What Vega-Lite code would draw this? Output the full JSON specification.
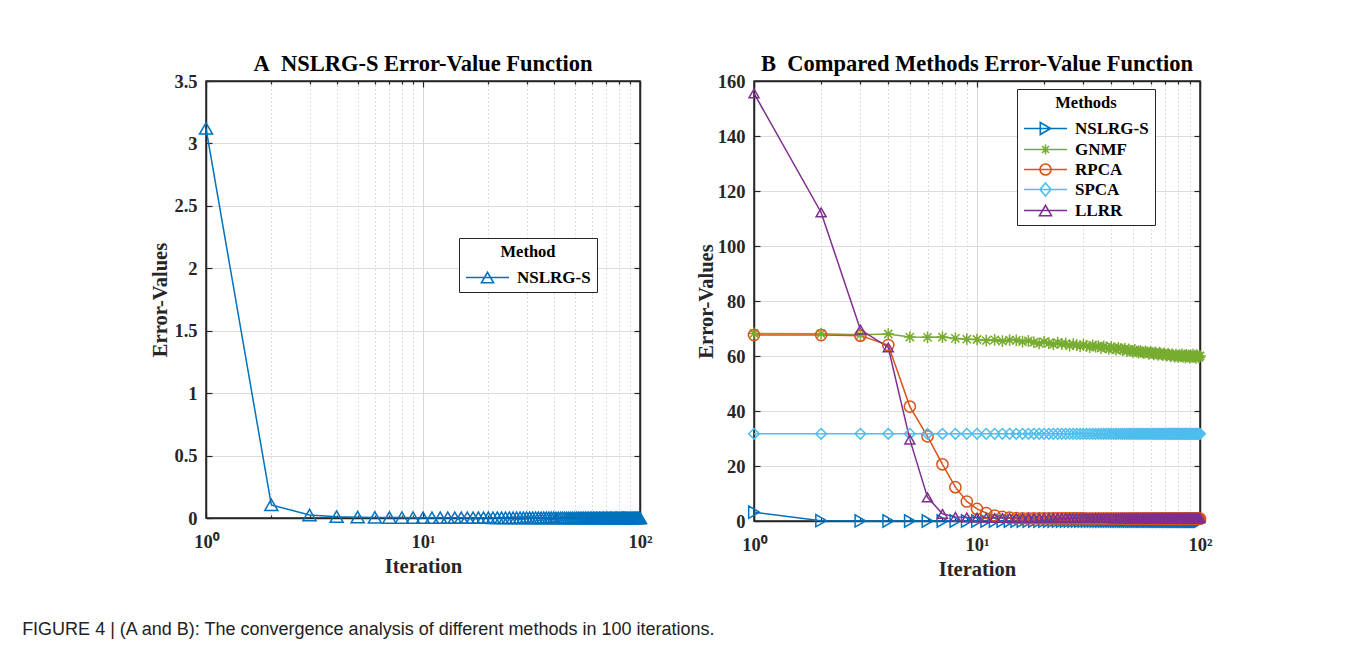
{
"$schema":"https://vega.github.io/schema/vega-lite/v6.json",
"padding":{"left":22,"top":51,"right":5,"bottom":5},
"title":{"text":"FIGURE 4 | (A and B): The convergence analysis of different methods in 100 iterations.","orient":"bottom","anchor":"start","font":"Liberation Sans","fontSize":18,"fontWeight":"normal","color":"#222222","dx":-128,"offset":40},
"spacing":42,
"datasets":{
"a":[
{"i":1,"v":3.12},{"i":2,"v":0.105},{"i":3,"v":0.024},{"i":4,"v":0.011},{"i":5,"v":0.007},{"i":6,"v":0.005},{"i":7,"v":0.004},{"i":8,"v":0.0035},{"i":9,"v":0.003},{"i":10,"v":0.0028},
{"i":11,"v":0.0025},{"i":12,"v":0.0025},{"i":13,"v":0.0025},{"i":14,"v":0.0025},{"i":15,"v":0.0025},{"i":16,"v":0.0025},{"i":17,"v":0.0025},{"i":18,"v":0.0025},{"i":19,"v":0.0025},{"i":20,"v":0.0025},
{"i":21,"v":0.002},{"i":22,"v":0.002},{"i":23,"v":0.002},{"i":24,"v":0.002},{"i":25,"v":0.002},{"i":26,"v":0.002},{"i":27,"v":0.002},{"i":28,"v":0.002},{"i":29,"v":0.002},{"i":30,"v":0.002},
{"i":31,"v":0.002},{"i":32,"v":0.002},{"i":33,"v":0.002},{"i":34,"v":0.002},{"i":35,"v":0.002},{"i":36,"v":0.002},{"i":37,"v":0.002},{"i":38,"v":0.002},{"i":39,"v":0.002},{"i":40,"v":0.002},
{"i":41,"v":0.0015},{"i":42,"v":0.0015},{"i":43,"v":0.0015},{"i":44,"v":0.0015},{"i":45,"v":0.0015},{"i":46,"v":0.0015},{"i":47,"v":0.0015},{"i":48,"v":0.0015},{"i":49,"v":0.0015},{"i":50,"v":0.0015},
{"i":51,"v":0.0015},{"i":52,"v":0.0015},{"i":53,"v":0.0015},{"i":54,"v":0.0015},{"i":55,"v":0.0015},{"i":56,"v":0.0015},{"i":57,"v":0.0015},{"i":58,"v":0.0015},{"i":59,"v":0.0015},{"i":60,"v":0.0015},
{"i":61,"v":0.0015},{"i":62,"v":0.0015},{"i":63,"v":0.0015},{"i":64,"v":0.0015},{"i":65,"v":0.0015},{"i":66,"v":0.0015},{"i":67,"v":0.0015},{"i":68,"v":0.0015},{"i":69,"v":0.0015},{"i":70,"v":0.0015},
{"i":71,"v":0.001},{"i":72,"v":0.001},{"i":73,"v":0.001},{"i":74,"v":0.001},{"i":75,"v":0.001},{"i":76,"v":0.001},{"i":77,"v":0.001},{"i":78,"v":0.001},{"i":79,"v":0.001},{"i":80,"v":0.001},
{"i":81,"v":0.001},{"i":82,"v":0.001},{"i":83,"v":0.001},{"i":84,"v":0.001},{"i":85,"v":0.001},{"i":86,"v":0.001},{"i":87,"v":0.001},{"i":88,"v":0.001},{"i":89,"v":0.001},{"i":90,"v":0.001},
{"i":91,"v":0.001},{"i":92,"v":0.001},{"i":93,"v":0.001},{"i":94,"v":0.001},{"i":95,"v":0.001},{"i":96,"v":0.001},{"i":97,"v":0.001},{"i":98,"v":0.001},{"i":99,"v":0.001},{"i":100,"v":0.001}
],
"b":[
{"m":"NSLRG-S","i":1,"v":3.2},{"m":"NSLRG-S","i":2,"v":0.12},{"m":"NSLRG-S","i":3,"v":0.03},{"m":"NSLRG-S","i":4,"v":0.012},{"m":"NSLRG-S","i":5,"v":0.008},{"m":"NSLRG-S","i":6,"v":0.006},{"m":"NSLRG-S","i":7,"v":0.005},{"m":"NSLRG-S","i":8,"v":0.0045},{"m":"NSLRG-S","i":9,"v":0.004},{"m":"NSLRG-S","i":10,"v":0.0038},
{"m":"NSLRG-S","i":11,"v":0.0035},{"m":"NSLRG-S","i":12,"v":0.0035},{"m":"NSLRG-S","i":13,"v":0.0035},{"m":"NSLRG-S","i":14,"v":0.0035},{"m":"NSLRG-S","i":15,"v":0.0035},{"m":"NSLRG-S","i":16,"v":0.0035},{"m":"NSLRG-S","i":17,"v":0.0035},{"m":"NSLRG-S","i":18,"v":0.0035},{"m":"NSLRG-S","i":19,"v":0.0035},{"m":"NSLRG-S","i":20,"v":0.0035},
{"m":"NSLRG-S","i":21,"v":0.003},{"m":"NSLRG-S","i":22,"v":0.003},{"m":"NSLRG-S","i":23,"v":0.003},{"m":"NSLRG-S","i":24,"v":0.003},{"m":"NSLRG-S","i":25,"v":0.003},{"m":"NSLRG-S","i":26,"v":0.003},{"m":"NSLRG-S","i":27,"v":0.003},{"m":"NSLRG-S","i":28,"v":0.003},{"m":"NSLRG-S","i":29,"v":0.003},{"m":"NSLRG-S","i":30,"v":0.003},
{"m":"NSLRG-S","i":31,"v":0.003},{"m":"NSLRG-S","i":32,"v":0.003},{"m":"NSLRG-S","i":33,"v":0.003},{"m":"NSLRG-S","i":34,"v":0.003},{"m":"NSLRG-S","i":35,"v":0.003},{"m":"NSLRG-S","i":36,"v":0.003},{"m":"NSLRG-S","i":37,"v":0.003},{"m":"NSLRG-S","i":38,"v":0.003},{"m":"NSLRG-S","i":39,"v":0.003},{"m":"NSLRG-S","i":40,"v":0.003},
{"m":"NSLRG-S","i":41,"v":0.0025},{"m":"NSLRG-S","i":42,"v":0.0025},{"m":"NSLRG-S","i":43,"v":0.0025},{"m":"NSLRG-S","i":44,"v":0.0025},{"m":"NSLRG-S","i":45,"v":0.0025},{"m":"NSLRG-S","i":46,"v":0.0025},{"m":"NSLRG-S","i":47,"v":0.0025},{"m":"NSLRG-S","i":48,"v":0.0025},{"m":"NSLRG-S","i":49,"v":0.0025},{"m":"NSLRG-S","i":50,"v":0.0025},
{"m":"NSLRG-S","i":51,"v":0.0025},{"m":"NSLRG-S","i":52,"v":0.0025},{"m":"NSLRG-S","i":53,"v":0.0025},{"m":"NSLRG-S","i":54,"v":0.0025},{"m":"NSLRG-S","i":55,"v":0.0025},{"m":"NSLRG-S","i":56,"v":0.0025},{"m":"NSLRG-S","i":57,"v":0.0025},{"m":"NSLRG-S","i":58,"v":0.0025},{"m":"NSLRG-S","i":59,"v":0.0025},{"m":"NSLRG-S","i":60,"v":0.0025},
{"m":"NSLRG-S","i":61,"v":0.0025},{"m":"NSLRG-S","i":62,"v":0.0025},{"m":"NSLRG-S","i":63,"v":0.0025},{"m":"NSLRG-S","i":64,"v":0.0025},{"m":"NSLRG-S","i":65,"v":0.0025},{"m":"NSLRG-S","i":66,"v":0.0025},{"m":"NSLRG-S","i":67,"v":0.0025},{"m":"NSLRG-S","i":68,"v":0.0025},{"m":"NSLRG-S","i":69,"v":0.0025},{"m":"NSLRG-S","i":70,"v":0.0025},
{"m":"NSLRG-S","i":71,"v":0.002},{"m":"NSLRG-S","i":72,"v":0.002},{"m":"NSLRG-S","i":73,"v":0.002},{"m":"NSLRG-S","i":74,"v":0.002},{"m":"NSLRG-S","i":75,"v":0.002},{"m":"NSLRG-S","i":76,"v":0.002},{"m":"NSLRG-S","i":77,"v":0.002},{"m":"NSLRG-S","i":78,"v":0.002},{"m":"NSLRG-S","i":79,"v":0.002},{"m":"NSLRG-S","i":80,"v":0.002},
{"m":"NSLRG-S","i":81,"v":0.002},{"m":"NSLRG-S","i":82,"v":0.002},{"m":"NSLRG-S","i":83,"v":0.002},{"m":"NSLRG-S","i":84,"v":0.002},{"m":"NSLRG-S","i":85,"v":0.002},{"m":"NSLRG-S","i":86,"v":0.002},{"m":"NSLRG-S","i":87,"v":0.002},{"m":"NSLRG-S","i":88,"v":0.002},{"m":"NSLRG-S","i":89,"v":0.002},{"m":"NSLRG-S","i":90,"v":0.002},
{"m":"NSLRG-S","i":91,"v":0.002},{"m":"NSLRG-S","i":92,"v":0.002},{"m":"NSLRG-S","i":93,"v":0.002},{"m":"NSLRG-S","i":94,"v":0.002},{"m":"NSLRG-S","i":95,"v":0.002},{"m":"NSLRG-S","i":96,"v":0.002},{"m":"NSLRG-S","i":97,"v":0.002},{"m":"NSLRG-S","i":98,"v":0.002},{"m":"NSLRG-S","i":99,"v":0.002},{"m":"NSLRG-S","i":100,"v":0.002},
{"m":"GNMF","i":1,"v":68.2},{"m":"GNMF","i":2,"v":68.1},{"m":"GNMF","i":3,"v":67.7},{"m":"GNMF","i":4,"v":68.0},{"m":"GNMF","i":5,"v":66.9},{"m":"GNMF","i":6,"v":66.8},{"m":"GNMF","i":7,"v":66.9},{"m":"GNMF","i":8,"v":66.4},{"m":"GNMF","i":9,"v":66.1},{"m":"GNMF","i":10,"v":66.0},
{"m":"GNMF","i":11,"v":65.6},{"m":"GNMF","i":12,"v":65.9},{"m":"GNMF","i":13,"v":65.4},{"m":"GNMF","i":14,"v":65.8},{"m":"GNMF","i":15,"v":65.7},{"m":"GNMF","i":16,"v":65.2},{"m":"GNMF","i":17,"v":65.5},{"m":"GNMF","i":18,"v":65.0},{"m":"GNMF","i":19,"v":64.6},{"m":"GNMF","i":20,"v":65.1},
{"m":"GNMF","i":21,"v":64.7},{"m":"GNMF","i":22,"v":64.2},{"m":"GNMF","i":23,"v":64.9},{"m":"GNMF","i":24,"v":64.4},{"m":"GNMF","i":25,"v":64.5},{"m":"GNMF","i":26,"v":63.8},{"m":"GNMF","i":27,"v":64.3},{"m":"GNMF","i":28,"v":64.0},{"m":"GNMF","i":29,"v":63.5},{"m":"GNMF","i":30,"v":64.1},
{"m":"GNMF","i":31,"v":63.7},{"m":"GNMF","i":32,"v":63.2},{"m":"GNMF","i":33,"v":63.9},{"m":"GNMF","i":34,"v":63.4},{"m":"GNMF","i":35,"v":63.6},{"m":"GNMF","i":36,"v":62.9},{"m":"GNMF","i":37,"v":63.5},{"m":"GNMF","i":38,"v":63.1},{"m":"GNMF","i":39,"v":62.6},{"m":"GNMF","i":40,"v":63.3},
{"m":"GNMF","i":41,"v":62.8},{"m":"GNMF","i":42,"v":62.3},{"m":"GNMF","i":43,"v":63.0},{"m":"GNMF","i":44,"v":62.5},{"m":"GNMF","i":45,"v":62.1},{"m":"GNMF","i":46,"v":62.7},{"m":"GNMF","i":47,"v":61.8},{"m":"GNMF","i":48,"v":62.4},{"m":"GNMF","i":49,"v":61.9},{"m":"GNMF","i":50,"v":61.5},
{"m":"GNMF","i":51,"v":62.2},{"m":"GNMF","i":52,"v":61.6},{"m":"GNMF","i":53,"v":61.2},{"m":"GNMF","i":54,"v":61.9},{"m":"GNMF","i":55,"v":61.4},{"m":"GNMF","i":56,"v":61.0},{"m":"GNMF","i":57,"v":61.7},{"m":"GNMF","i":58,"v":61.3},{"m":"GNMF","i":59,"v":60.8},{"m":"GNMF","i":60,"v":61.5},
{"m":"GNMF","i":61,"v":61.1},{"m":"GNMF","i":62,"v":60.6},{"m":"GNMF","i":63,"v":61.3},{"m":"GNMF","i":64,"v":60.9},{"m":"GNMF","i":65,"v":60.4},{"m":"GNMF","i":66,"v":61.2},{"m":"GNMF","i":67,"v":60.7},{"m":"GNMF","i":68,"v":60.3},{"m":"GNMF","i":69,"v":61.0},{"m":"GNMF","i":70,"v":60.5},
{"m":"GNMF","i":71,"v":60.1},{"m":"GNMF","i":72,"v":60.8},{"m":"GNMF","i":73,"v":60.4},{"m":"GNMF","i":74,"v":59.9},{"m":"GNMF","i":75,"v":60.6},{"m":"GNMF","i":76,"v":60.2},{"m":"GNMF","i":77,"v":59.8},{"m":"GNMF","i":78,"v":60.5},{"m":"GNMF","i":79,"v":60.0},{"m":"GNMF","i":80,"v":59.6},
{"m":"GNMF","i":81,"v":60.3},{"m":"GNMF","i":82,"v":59.9},{"m":"GNMF","i":83,"v":60.6},{"m":"GNMF","i":84,"v":59.7},{"m":"GNMF","i":85,"v":60.2},{"m":"GNMF","i":86,"v":59.5},{"m":"GNMF","i":87,"v":60.4},{"m":"GNMF","i":88,"v":59.8},{"m":"GNMF","i":89,"v":60.1},{"m":"GNMF","i":90,"v":59.4},
{"m":"GNMF","i":91,"v":60.2},{"m":"GNMF","i":92,"v":59.7},{"m":"GNMF","i":93,"v":60.5},{"m":"GNMF","i":94,"v":59.6},{"m":"GNMF","i":95,"v":60.1},{"m":"GNMF","i":96,"v":59.3},{"m":"GNMF","i":97,"v":60.3},{"m":"GNMF","i":98,"v":59.8},{"m":"GNMF","i":99,"v":59.5},{"m":"GNMF","i":100,"v":60.0},
{"m":"RPCA","i":1,"v":67.6},{"m":"RPCA","i":2,"v":67.6},{"m":"RPCA","i":3,"v":67.4},{"m":"RPCA","i":4,"v":64.0},{"m":"RPCA","i":5,"v":41.6},{"m":"RPCA","i":6,"v":30.8},{"m":"RPCA","i":7,"v":20.6},{"m":"RPCA","i":8,"v":12.3},{"m":"RPCA","i":9,"v":7.1},{"m":"RPCA","i":10,"v":4.4},
{"m":"RPCA","i":11,"v":2.9},{"m":"RPCA","i":12,"v":2.0},{"m":"RPCA","i":13,"v":1.5},{"m":"RPCA","i":14,"v":1.2},{"m":"RPCA","i":15,"v":1.05},{"m":"RPCA","i":16,"v":1.0},{"m":"RPCA","i":17,"v":0.98},{"m":"RPCA","i":18,"v":0.96},{"m":"RPCA","i":19,"v":0.95},{"m":"RPCA","i":20,"v":0.94},
{"m":"RPCA","i":21,"v":0.93},{"m":"RPCA","i":22,"v":0.93},{"m":"RPCA","i":23,"v":0.93},{"m":"RPCA","i":24,"v":0.93},{"m":"RPCA","i":25,"v":0.93},{"m":"RPCA","i":26,"v":0.93},{"m":"RPCA","i":27,"v":0.93},{"m":"RPCA","i":28,"v":0.93},{"m":"RPCA","i":29,"v":0.93},{"m":"RPCA","i":30,"v":0.93},
{"m":"RPCA","i":31,"v":0.9},{"m":"RPCA","i":32,"v":0.9},{"m":"RPCA","i":33,"v":0.9},{"m":"RPCA","i":34,"v":0.9},{"m":"RPCA","i":35,"v":0.9},{"m":"RPCA","i":36,"v":0.9},{"m":"RPCA","i":37,"v":0.9},{"m":"RPCA","i":38,"v":0.9},{"m":"RPCA","i":39,"v":0.9},{"m":"RPCA","i":40,"v":0.9},
{"m":"RPCA","i":41,"v":0.9},{"m":"RPCA","i":42,"v":0.9},{"m":"RPCA","i":43,"v":0.9},{"m":"RPCA","i":44,"v":0.9},{"m":"RPCA","i":45,"v":0.9},{"m":"RPCA","i":46,"v":0.9},{"m":"RPCA","i":47,"v":0.9},{"m":"RPCA","i":48,"v":0.9},{"m":"RPCA","i":49,"v":0.9},{"m":"RPCA","i":50,"v":0.9},
{"m":"RPCA","i":51,"v":0.87},{"m":"RPCA","i":52,"v":0.87},{"m":"RPCA","i":53,"v":0.87},{"m":"RPCA","i":54,"v":0.87},{"m":"RPCA","i":55,"v":0.87},{"m":"RPCA","i":56,"v":0.87},{"m":"RPCA","i":57,"v":0.87},{"m":"RPCA","i":58,"v":0.87},{"m":"RPCA","i":59,"v":0.87},{"m":"RPCA","i":60,"v":0.87},
{"m":"RPCA","i":61,"v":0.87},{"m":"RPCA","i":62,"v":0.87},{"m":"RPCA","i":63,"v":0.87},{"m":"RPCA","i":64,"v":0.87},{"m":"RPCA","i":65,"v":0.87},{"m":"RPCA","i":66,"v":0.87},{"m":"RPCA","i":67,"v":0.87},{"m":"RPCA","i":68,"v":0.87},{"m":"RPCA","i":69,"v":0.87},{"m":"RPCA","i":70,"v":0.87},
{"m":"RPCA","i":71,"v":0.84},{"m":"RPCA","i":72,"v":0.84},{"m":"RPCA","i":73,"v":0.84},{"m":"RPCA","i":74,"v":0.84},{"m":"RPCA","i":75,"v":0.84},{"m":"RPCA","i":76,"v":0.84},{"m":"RPCA","i":77,"v":0.84},{"m":"RPCA","i":78,"v":0.84},{"m":"RPCA","i":79,"v":0.84},{"m":"RPCA","i":80,"v":0.84},
{"m":"RPCA","i":81,"v":0.84},{"m":"RPCA","i":82,"v":0.84},{"m":"RPCA","i":83,"v":0.84},{"m":"RPCA","i":84,"v":0.84},{"m":"RPCA","i":85,"v":0.84},{"m":"RPCA","i":86,"v":0.84},{"m":"RPCA","i":87,"v":0.84},{"m":"RPCA","i":88,"v":0.84},{"m":"RPCA","i":89,"v":0.84},{"m":"RPCA","i":90,"v":0.84},
{"m":"RPCA","i":91,"v":0.84},{"m":"RPCA","i":92,"v":0.84},{"m":"RPCA","i":93,"v":0.84},{"m":"RPCA","i":94,"v":0.84},{"m":"RPCA","i":95,"v":0.84},{"m":"RPCA","i":96,"v":0.84},{"m":"RPCA","i":97,"v":0.84},{"m":"RPCA","i":98,"v":0.84},{"m":"RPCA","i":99,"v":0.84},{"m":"RPCA","i":100,"v":0.84},
{"m":"SPCA","i":1,"v":31.7},{"m":"SPCA","i":2,"v":31.7},{"m":"SPCA","i":3,"v":31.7},{"m":"SPCA","i":4,"v":31.7},{"m":"SPCA","i":5,"v":31.7},{"m":"SPCA","i":6,"v":31.7},{"m":"SPCA","i":7,"v":31.7},{"m":"SPCA","i":8,"v":31.7},{"m":"SPCA","i":9,"v":31.7},{"m":"SPCA","i":10,"v":31.7},
{"m":"SPCA","i":11,"v":31.7},{"m":"SPCA","i":12,"v":31.7},{"m":"SPCA","i":13,"v":31.7},{"m":"SPCA","i":14,"v":31.7},{"m":"SPCA","i":15,"v":31.7},{"m":"SPCA","i":16,"v":31.7},{"m":"SPCA","i":17,"v":31.7},{"m":"SPCA","i":18,"v":31.7},{"m":"SPCA","i":19,"v":31.7},{"m":"SPCA","i":20,"v":31.7},
{"m":"SPCA","i":21,"v":31.7},{"m":"SPCA","i":22,"v":31.7},{"m":"SPCA","i":23,"v":31.7},{"m":"SPCA","i":24,"v":31.7},{"m":"SPCA","i":25,"v":31.7},{"m":"SPCA","i":26,"v":31.7},{"m":"SPCA","i":27,"v":31.7},{"m":"SPCA","i":28,"v":31.7},{"m":"SPCA","i":29,"v":31.7},{"m":"SPCA","i":30,"v":31.7},
{"m":"SPCA","i":31,"v":31.7},{"m":"SPCA","i":32,"v":31.7},{"m":"SPCA","i":33,"v":31.7},{"m":"SPCA","i":34,"v":31.7},{"m":"SPCA","i":35,"v":31.7},{"m":"SPCA","i":36,"v":31.7},{"m":"SPCA","i":37,"v":31.7},{"m":"SPCA","i":38,"v":31.7},{"m":"SPCA","i":39,"v":31.7},{"m":"SPCA","i":40,"v":31.7},
{"m":"SPCA","i":41,"v":31.7},{"m":"SPCA","i":42,"v":31.7},{"m":"SPCA","i":43,"v":31.7},{"m":"SPCA","i":44,"v":31.7},{"m":"SPCA","i":45,"v":31.7},{"m":"SPCA","i":46,"v":31.7},{"m":"SPCA","i":47,"v":31.7},{"m":"SPCA","i":48,"v":31.7},{"m":"SPCA","i":49,"v":31.7},{"m":"SPCA","i":50,"v":31.7},
{"m":"SPCA","i":51,"v":31.7},{"m":"SPCA","i":52,"v":31.7},{"m":"SPCA","i":53,"v":31.7},{"m":"SPCA","i":54,"v":31.7},{"m":"SPCA","i":55,"v":31.7},{"m":"SPCA","i":56,"v":31.7},{"m":"SPCA","i":57,"v":31.7},{"m":"SPCA","i":58,"v":31.7},{"m":"SPCA","i":59,"v":31.7},{"m":"SPCA","i":60,"v":31.7},
{"m":"SPCA","i":61,"v":31.7},{"m":"SPCA","i":62,"v":31.7},{"m":"SPCA","i":63,"v":31.7},{"m":"SPCA","i":64,"v":31.7},{"m":"SPCA","i":65,"v":31.7},{"m":"SPCA","i":66,"v":31.7},{"m":"SPCA","i":67,"v":31.7},{"m":"SPCA","i":68,"v":31.7},{"m":"SPCA","i":69,"v":31.7},{"m":"SPCA","i":70,"v":31.7},
{"m":"SPCA","i":71,"v":31.7},{"m":"SPCA","i":72,"v":31.7},{"m":"SPCA","i":73,"v":31.7},{"m":"SPCA","i":74,"v":31.7},{"m":"SPCA","i":75,"v":31.7},{"m":"SPCA","i":76,"v":31.7},{"m":"SPCA","i":77,"v":31.7},{"m":"SPCA","i":78,"v":31.7},{"m":"SPCA","i":79,"v":31.7},{"m":"SPCA","i":80,"v":31.7},
{"m":"SPCA","i":81,"v":31.7},{"m":"SPCA","i":82,"v":31.7},{"m":"SPCA","i":83,"v":31.7},{"m":"SPCA","i":84,"v":31.7},{"m":"SPCA","i":85,"v":31.7},{"m":"SPCA","i":86,"v":31.7},{"m":"SPCA","i":87,"v":31.7},{"m":"SPCA","i":88,"v":31.7},{"m":"SPCA","i":89,"v":31.7},{"m":"SPCA","i":90,"v":31.7},
{"m":"SPCA","i":91,"v":31.7},{"m":"SPCA","i":92,"v":31.7},{"m":"SPCA","i":93,"v":31.7},{"m":"SPCA","i":94,"v":31.7},{"m":"SPCA","i":95,"v":31.7},{"m":"SPCA","i":96,"v":31.7},{"m":"SPCA","i":97,"v":31.7},{"m":"SPCA","i":98,"v":31.7},{"m":"SPCA","i":99,"v":31.7},{"m":"SPCA","i":100,"v":31.7},
{"m":"LLRR","i":1,"v":155.5},{"m":"LLRR","i":2,"v":112.2},{"m":"LLRR","i":3,"v":69.6},{"m":"LLRR","i":4,"v":63.1},{"m":"LLRR","i":5,"v":29.6},{"m":"LLRR","i":6,"v":8.6},{"m":"LLRR","i":7,"v":2.6},{"m":"LLRR","i":8,"v":1.5},{"m":"LLRR","i":9,"v":1.3},{"m":"LLRR","i":10,"v":1.2},
{"m":"LLRR","i":11,"v":1.15},{"m":"LLRR","i":12,"v":1.1},{"m":"LLRR","i":13,"v":1.1},{"m":"LLRR","i":14,"v":1.1},{"m":"LLRR","i":15,"v":1.1},{"m":"LLRR","i":16,"v":1.1},{"m":"LLRR","i":17,"v":1.1},{"m":"LLRR","i":18,"v":1.1},{"m":"LLRR","i":19,"v":1.1},{"m":"LLRR","i":20,"v":1.1},
{"m":"LLRR","i":21,"v":1.08},{"m":"LLRR","i":22,"v":1.08},{"m":"LLRR","i":23,"v":1.08},{"m":"LLRR","i":24,"v":1.08},{"m":"LLRR","i":25,"v":1.08},{"m":"LLRR","i":26,"v":1.08},{"m":"LLRR","i":27,"v":1.08},{"m":"LLRR","i":28,"v":1.08},{"m":"LLRR","i":29,"v":1.08},{"m":"LLRR","i":30,"v":1.08},
{"m":"LLRR","i":31,"v":1.08},{"m":"LLRR","i":32,"v":1.08},{"m":"LLRR","i":33,"v":1.08},{"m":"LLRR","i":34,"v":1.08},{"m":"LLRR","i":35,"v":1.08},{"m":"LLRR","i":36,"v":1.08},{"m":"LLRR","i":37,"v":1.08},{"m":"LLRR","i":38,"v":1.08},{"m":"LLRR","i":39,"v":1.08},{"m":"LLRR","i":40,"v":1.08},
{"m":"LLRR","i":41,"v":1.05},{"m":"LLRR","i":42,"v":1.05},{"m":"LLRR","i":43,"v":1.05},{"m":"LLRR","i":44,"v":1.05},{"m":"LLRR","i":45,"v":1.05},{"m":"LLRR","i":46,"v":1.05},{"m":"LLRR","i":47,"v":1.05},{"m":"LLRR","i":48,"v":1.05},{"m":"LLRR","i":49,"v":1.05},{"m":"LLRR","i":50,"v":1.05},
{"m":"LLRR","i":51,"v":1.05},{"m":"LLRR","i":52,"v":1.05},{"m":"LLRR","i":53,"v":1.05},{"m":"LLRR","i":54,"v":1.05},{"m":"LLRR","i":55,"v":1.05},{"m":"LLRR","i":56,"v":1.05},{"m":"LLRR","i":57,"v":1.05},{"m":"LLRR","i":58,"v":1.05},{"m":"LLRR","i":59,"v":1.05},{"m":"LLRR","i":60,"v":1.05},
{"m":"LLRR","i":61,"v":1.05},{"m":"LLRR","i":62,"v":1.05},{"m":"LLRR","i":63,"v":1.05},{"m":"LLRR","i":64,"v":1.05},{"m":"LLRR","i":65,"v":1.05},{"m":"LLRR","i":66,"v":1.05},{"m":"LLRR","i":67,"v":1.05},{"m":"LLRR","i":68,"v":1.05},{"m":"LLRR","i":69,"v":1.05},{"m":"LLRR","i":70,"v":1.05},
{"m":"LLRR","i":71,"v":1.02},{"m":"LLRR","i":72,"v":1.02},{"m":"LLRR","i":73,"v":1.02},{"m":"LLRR","i":74,"v":1.02},{"m":"LLRR","i":75,"v":1.02},{"m":"LLRR","i":76,"v":1.02},{"m":"LLRR","i":77,"v":1.02},{"m":"LLRR","i":78,"v":1.02},{"m":"LLRR","i":79,"v":1.02},{"m":"LLRR","i":80,"v":1.02},
{"m":"LLRR","i":81,"v":1.02},{"m":"LLRR","i":82,"v":1.02},{"m":"LLRR","i":83,"v":1.02},{"m":"LLRR","i":84,"v":1.02},{"m":"LLRR","i":85,"v":1.02},{"m":"LLRR","i":86,"v":1.02},{"m":"LLRR","i":87,"v":1.02},{"m":"LLRR","i":88,"v":1.02},{"m":"LLRR","i":89,"v":1.02},{"m":"LLRR","i":90,"v":1.02},
{"m":"LLRR","i":91,"v":1.02},{"m":"LLRR","i":92,"v":1.02},{"m":"LLRR","i":93,"v":1.02},{"m":"LLRR","i":94,"v":1.02},{"m":"LLRR","i":95,"v":1.02},{"m":"LLRR","i":96,"v":1.02},{"m":"LLRR","i":97,"v":1.02},{"m":"LLRR","i":98,"v":1.02},{"m":"LLRR","i":99,"v":1.02},{"m":"LLRR","i":100,"v":1.02}
]
},
"hconcat":[
{
"width":434,"height":437,
"title":{"text":"A\u00a0\u00a0NSLRG-S Error-Value Function","offset":-3},
"layer":[
{"data":{"name":"a"},"mark":{"type":"line","color":"#0072BD","strokeWidth":1.5},
"encoding":{
"x":{"field":"i","type":"quantitative","scale":{"type":"log","domain":[1,100]},
"axis":{"orient":"bottom","values":[1,2,3,4,5,6,7,8,9,10,20,30,40,50,60,70,80,90,100],"labelExpr":"datum.value==1?'10⁰':datum.value==10?'10¹':datum.value==100?'10²':''","labelOverlap":false,"labelFlush":false,"labelBound":false,"labelPadding":20,"grid":true,"gridDash":{"condition":{"test":"datum.value==10","value":[]},"value":[1,3]},"gridColor":{"condition":{"test":"datum.value==10","value":"#d6d6d6"},"value":"#bdbdbd"},"tickSize":{"condition":{"test":"datum.value==1||datum.value==10||datum.value==100","value":-6},"value":-3},"title":"Iteration","titlePadding":3}},
"y":{"field":"v","type":"quantitative","scale":{"domain":[0,3.5],"nice":false,"zero":true},
"axis":{"orient":"left","values":[0,0.5,1,1.5,2,2.5,3,3.5],"format":"~g","grid":true,"gridColor":"#dcdcdc","tickSize":-6,"labelPadding":15,"title":"Error-Values","titlePadding":3}}}},
{"data":{"name":"a"},"mark":{"type":"point","shape":"triangle-up","size":170,"filled":false,"color":"#0072BD","strokeWidth":1.5,"opacity":1},
"encoding":{
"x":{"field":"i","type":"quantitative","scale":{"type":"log","domain":[1,100]},
"axis":{"orient":"top","values":[1,2,3,4,5,6,7,8,9,10,20,30,40,50,60,70,80,90,100],"labels":false,"grid":false,"tickSize":{"condition":{"test":"datum.value==1||datum.value==10||datum.value==100","value":-6},"value":-3},"title":null}},
"y":{"field":"v","type":"quantitative","scale":{"domain":[0,3.5],"nice":false},
"axis":{"orient":"right","values":[0,0.5,1,1.5,2,2.5,3,3.5],"labels":false,"grid":false,"tickSize":-6,"title":null}}}},
{"data":{"values":[{"m":"NSLRG-S"}]},"mark":{"type":"point","opacity":0,"size":400,"filled":false},
"encoding":{"shape":{"field":"m","type":"nominal","scale":{"domain":["NSLRG-S"],"range":["M-1,0H3.3M0.55,0.52L1.15,-0.52L1.75,0.52Z"]},
"legend":{"title":"Method","orient":"none","legendX":253,"legendY":157,"symbolSize":400,"symbolOpacity":1,"symbolStrokeColor":"#0072BD","symbolFillColor":"transparent","symbolStrokeWidth":1.6,"labelOffset":30}}}}
],
"resolve":{"axis":{"x":"independent","y":"independent"},"scale":{"shape":"independent"}}
},
{
"width":446,"height":440,
"title":{"text":"B\u00a0\u00a0Compared Methods Error-Value Function","offset":-3},
"layer":[
{"data":{"name":"b"},"mark":{"type":"line","strokeWidth":1.5},
"encoding":{
"x":{"field":"i","type":"quantitative","scale":{"type":"log","domain":[1,100]},
"axis":{"orient":"bottom","values":[1,2,3,4,5,6,7,8,9,10,20,30,40,50,60,70,80,90,100],"labelExpr":"datum.value==1?'10⁰':datum.value==10?'10¹':datum.value==100?'10²':''","labelOverlap":false,"labelFlush":false,"labelBound":false,"labelPadding":20,"grid":true,"gridDash":{"condition":{"test":"datum.value==10","value":[]},"value":[1,3]},"gridColor":{"condition":{"test":"datum.value==10","value":"#d6d6d6"},"value":"#bdbdbd"},"tickSize":{"condition":{"test":"datum.value==1||datum.value==10||datum.value==100","value":-6},"value":-3},"title":"Iteration","titlePadding":3}},
"y":{"field":"v","type":"quantitative","scale":{"domain":[0,160],"nice":false,"zero":true},
"axis":{"orient":"left","values":[0,20,40,60,80,100,120,140,160],"grid":true,"gridColor":"#dcdcdc","tickSize":-6,"labelPadding":15,"title":"Error-Values","titlePadding":1}},
"color":{"field":"m","type":"nominal","scale":{"domain":["NSLRG-S","GNMF","RPCA","SPCA","LLRR"],"range":["#0072BD","#77AC30","#D95319","#4DBEEE","#7E2F8E"]},"legend":null}}},
{"data":{"name":"b"},"mark":{"type":"point","filled":false,"strokeWidth":1.5,"opacity":1},
"encoding":{
"x":{"field":"i","type":"quantitative","scale":{"type":"log","domain":[1,100]},
"axis":{"orient":"top","values":[1,2,3,4,5,6,7,8,9,10,20,30,40,50,60,70,80,90,100],"labels":false,"grid":false,"tickSize":{"condition":{"test":"datum.value==1||datum.value==10||datum.value==100","value":-6},"value":-3},"title":null}},
"y":{"field":"v","type":"quantitative","scale":{"domain":[0,160],"nice":false},
"axis":{"orient":"right","values":[0,20,40,60,80,100,120,140,160],"labels":false,"grid":false,"tickSize":-6,"title":null}},
"color":{"field":"m","type":"nominal","scale":{"domain":["NSLRG-S","GNMF","RPCA","SPCA","LLRR"],"range":["#0072BD","#77AC30","#D95319","#4DBEEE","#7E2F8E"]},"legend":null},
"shape":{"field":"m","type":"nominal","scale":{"domain":["NSLRG-S","GNMF","RPCA","SPCA","LLRR"],"range":["triangle-right","M-1,0H1M0,-1V1M-0.7,-0.7L0.7,0.7M-0.7,0.7L0.7,-0.7","circle","diamond","triangle-up"]},"legend":null},
"size":{"field":"m","type":"nominal","scale":{"domain":["NSLRG-S","GNMF","RPCA","SPCA","LLRR"],"range":[150,100,115,190,170]},"legend":null}}},
{"data":{"values":[{"m":"NSLRG-S"},{"m":"GNMF"},{"m":"RPCA"},{"m":"SPCA"},{"m":"LLRR"}]},"mark":{"type":"point","opacity":0,"size":400,"filled":false},
"encoding":{
"shape":{"field":"m","type":"nominal","scale":{"domain":["NSLRG-S","GNMF","RPCA","SPCA","LLRR"],"range":["M-1,0H3.3M0.63,-0.6L1.67,0L0.63,0.6Z","M-1,0H3.3M1.15,-0.5V0.5M0.8,-0.35L1.5,0.35M0.8,0.35L1.5,-0.35","M-1,0H3.3M1.7,0A0.55,0.55,0,1,1,0.6,0A0.55,0.55,0,1,1,1.7,0","M-1,0H3.3M1.15,-0.65L1.7,0L1.15,0.65L0.6,0Z","M-1,0H3.3M0.55,0.52L1.15,-0.52L1.75,0.52Z"]},
"legend":{"title":"Methods","orient":"none","legendX":263,"legendY":8,"symbolSize":400,"symbolOpacity":1,"symbolFillColor":"transparent","symbolStrokeWidth":1.6,"labelOffset":30,"rowPadding":-1}},
"stroke":{"field":"m","type":"nominal","scale":{"domain":["NSLRG-S","GNMF","RPCA","SPCA","LLRR"],"range":["#0072BD","#77AC30","#D95319","#4DBEEE","#7E2F8E"]},
"legend":{"title":"Methods","orient":"none","legendX":263,"legendY":8,"symbolSize":400,"symbolOpacity":1,"symbolFillColor":"transparent","symbolStrokeWidth":1.6,"labelOffset":30,"rowPadding":-1}}}}
],
"resolve":{"axis":{"x":"independent","y":"independent"},"scale":{"shape":"independent","size":"independent","stroke":"independent"}}
}
],
"config":{
"view":{"stroke":"#262626","strokeWidth":1.5},
"axis":{"labelFont":"Liberation Serif","labelFontWeight":"bold","labelFontSize":18.5,"labelColor":"#262626","titleFont":"Liberation Serif","titleFontWeight":"bold","titleFontSize":20.5,"titleColor":"#262626","domainColor":"#262626","domainWidth":1.5,"tickColor":"#262626","tickWidth":1.2},
"title":{"font":"Liberation Serif","fontSize":22.5,"fontWeight":"bold","color":"#000000"},
"legend":{"titleFont":"Liberation Serif","titleFontSize":16.5,"titleFontWeight":"bold","titleColor":"#000000","labelFont":"Liberation Serif","labelFontSize":17,"labelFontWeight":"bold","labelColor":"#000000","strokeColor":"#262626","fillColor":"#ffffff","padding":6,"titleAnchor":"middle","titlePadding":6,"rowPadding":0}
}
}
